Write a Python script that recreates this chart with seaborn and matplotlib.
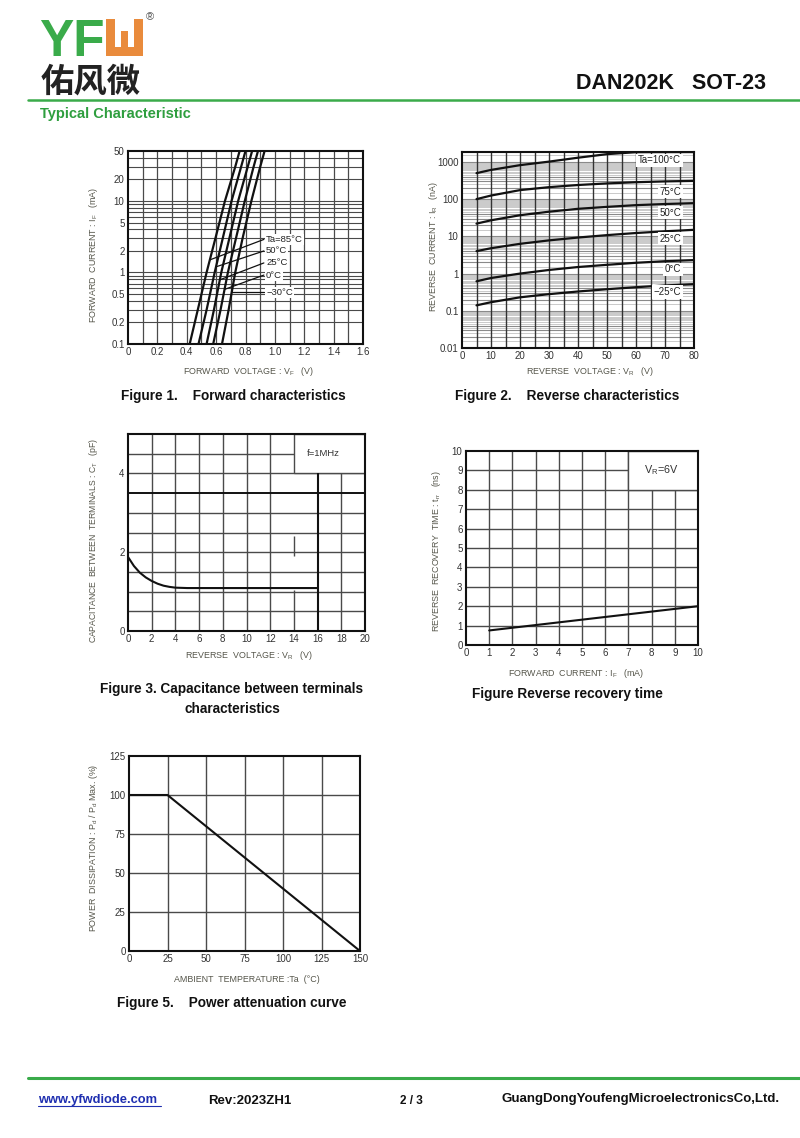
import numpy as np
import pandas as pd
import matplotlib
matplotlib.use("Agg")
import matplotlib.pyplot as plt
import seaborn as sns
from matplotlib.patches import Rectangle
from matplotlib.lines import Line2D
from matplotlib.ticker import NullLocator

# ---------------- data ----------------
# Figure 1 : forward characteristics (IF in mA, VF in V)
f1_current = [0.1, 0.3, 1, 3, 10, 30, 50]
f1_temps = ["Ta=85°C", "50°C", "25°C", "0°C", "−30°C"]
f1_vf_85 = [0.42, 0.475, 0.535, 0.595, 0.66, 0.73, 0.76]
f1_vf_50 = [0.48, 0.535, 0.59, 0.645, 0.705, 0.77, 0.80]
f1_vf_25 = [0.535, 0.585, 0.635, 0.69, 0.75, 0.815, 0.845]
f1_vf_0 = [0.58, 0.63, 0.68, 0.735, 0.795, 0.855, 0.885]
f1_vf_m30 = [0.64, 0.685, 0.73, 0.78, 0.84, 0.90, 0.93]
f1_label_current = [2.9, 2.0, 1.36, 0.92, 0.53]
f1_leader_current = [1.5, 1.2, 0.79, 0.58, 0.53]

# Figure 2 : reverse characteristics (IR in nA, VR in V)
f2_vr = [5, 10, 20, 30, 40, 50, 60, 70, 80]
f2_temps = ["Ta=100°C", "75°C", "50°C", "25°C", "0°C", "−25°C"]
f2_ir_100 = [500, 610, 820, 1020, 1300, 1620, 1830, 1840, 1845]
f2_ir_75 = [100, 125, 175, 210, 240, 265, 285, 300, 310]
f2_ir_50 = [22, 27, 37, 46, 55, 62, 69, 74, 78]
f2_ir_25 = [4.0, 4.8, 6.3, 7.8, 9.3, 10.8, 12.3, 13.7, 15]
f2_ir_0 = [0.62, 0.76, 1.0, 1.25, 1.5, 1.72, 1.95, 2.15, 2.3]
f2_ir_m25 = [0.14, 0.17, 0.23, 0.28, 0.33, 0.38, 0.43, 0.48, 0.52]
f2_label_current = [1100, 160, 43, 8.7, 1.3, 0.32]

# Figure 3 : capacitance between terminals (pF vs VR)
f3_vr = [0, 0.5, 1, 1.5, 2, 2.5, 3, 3.5, 4, 5, 6, 16]
f3_ct = [1.88, 1.65, 1.48, 1.36, 1.27, 1.2, 1.15, 1.12, 1.1, 1.09, 1.09, 1.09]

# Figure 4 : reverse recovery time (ns vs IF mA)
f4_if = [1, 10]
f4_trr = [0.75, 2.0]

# Figure 5 : power attenuation curve
f5_ta = [0, 25, 150]
f5_pd = [100, 100, 0]

# ---------------- style ----------------
sns.set_theme(style="white")
plt.rcParams["font.family"] = ["Liberation Sans", "DejaVu Sans"]
plt.rcParams["mathtext.fontset"] = "custom"
plt.rcParams["mathtext.rm"] = "Liberation Sans"

W, H = 800, 1138
fig = plt.figure(figsize=(W / 100, H / 100), dpi=100)
fig.patch.set_facecolor("white")

GREEN = "#3aab4a"
LABEL_C = "#55554a"
TICK_C = "#333333"
GRID_C = "#4a4a4a"


def add_ax(l, t, r, b):
    ax = fig.add_axes([l / W, 1 - b / H, (r - l) / W, (b - t) / H])
    ax.set_facecolor("white")
    for sp in ax.spines.values():
        sp.set_linewidth(1.5)
        sp.set_color("#111111")
        sp.set_zorder(5)
    ax.tick_params(length=0, labelsize=7, colors=TICK_C, pad=2.5)
    ax.grid(False)
    return ax


def ftext(x, y, s, **kw):
    fig.text(x / W, 1 - y / H, s, **kw)


# ---------------- header ----------------
ftext(39, 56, "YF", fontsize=37, fontweight="bold", color=GREEN, va="baseline", ha="left")
fig.add_artist(Rectangle((106 / W, 1 - 56 / H), 37 / W, 37 / H, transform=fig.transFigure,
                         fc="#e98b3c", ec="none"))
for (x0, y0, x1, y1) in [(115, 19, 134, 31), (115, 31, 121, 47), (128, 31, 134, 47)]:
    fig.add_artist(Rectangle((x0 / W, 1 - y1 / H), (x1 - x0) / W, (y1 - y0) / H,
                             transform=fig.transFigure, fc="white", ec="none"))
ftext(146, 17, "®", fontsize=8, color="#555555", va="center", ha="left")
ftext(41, 92, "佑风微", fontsize=24, fontweight="bold", color="#222222",
      family=["Noto Sans CJK SC", "DejaVu Sans"], va="baseline", ha="left")
ftext(766, 89, "DAN202K   SOT-23", fontsize=15.5, fontweight="bold", color="#111111",
      va="baseline", ha="right")
fig.add_artist(Line2D([28 / W, 1], [1 - 100 / H] * 2, color=GREEN, lw=1.8))
ftext(40, 118, "Typical Characteristic", fontsize=10.5, fontweight="bold", color="#2e9e3e",
      va="baseline", ha="left")

# ---------------- Figure 1 ----------------
ax1 = add_ax(128, 151, 363, 344)
ax1.set_yscale("log")
ax1.set_xlim(0, 1.6)
ax1.set_ylim(0.1, 50)
hl = [k * d for d in (0.1, 1, 10) for k in range(1, 10)] + [50]
hl = [v for v in hl if 0.1 < v < 50]
ax1.hlines(hl, 0, 1.6, color=GRID_C, lw=0.8, zorder=0.5)
ax1.vlines(np.arange(0.1, 1.6, 0.1), 0.1, 50, color=GRID_C, lw=0.9, zorder=0.5)
f1_vf = [f1_vf_85, f1_vf_50, f1_vf_25, f1_vf_0, f1_vf_m30]
df1 = pd.DataFrame({
    "VF": sum(f1_vf, []),
    "IF": f1_current * len(f1_temps),
    "Ta": np.repeat(f1_temps, len(f1_current)),
})
sns.lineplot(data=df1, x="VF", y="IF", hue="Ta", palette=["#111111"] * 5, legend=False,
             sort=False, estimator=None, lw=1.6, ax=ax1, zorder=3)
for lab, il, ie, vf in zip(f1_temps, f1_label_current, f1_leader_current, f1_vf):
    ve = np.interp(np.log10(ie), np.log10(f1_current), vf)
    ax1.plot([0.925, ve], [il, ie], color="#111111", lw=0.9, zorder=3)
    ax1.text(0.94, il, lab, fontsize=6.8, color="#222222", va="center", ha="left", zorder=4,
             bbox=dict(fc="white", ec="none", pad=0.8))
ax1.set_xticks(np.arange(0, 1.61, 0.2))
ax1.set_xticklabels(["0", "0.2", "0.4", "0.6", "0.8", "1.0", "1.2", "1.4", "1.6"])
ax1.set_yticks([0.1, 0.2, 0.5, 1, 2, 5, 10, 20, 50])
ax1.set_yticklabels(["0.1", "0.2", "0.5", "1", "2", "5", "10", "20", "50"])
ax1.yaxis.set_minor_locator(NullLocator())
ax1.set_xlabel("")
ax1.set_ylabel("")
ftext(248, 372, r"FORWARD  VOLTAGE : V$\mathregular{_F}$   (V)", fontsize=6.4, color=LABEL_C,
      ha="center", va="center")
ftext(94, 255, r"FORWARD  CURRENT : I$\mathregular{_F}$   (mA)", fontsize=6.4, color=LABEL_C,
      ha="center", va="center", rotation=90)
ftext(233, 396, "Figure 1.    Forward characteristics", fontsize=9.8, fontweight="bold",
      color="#111111", ha="center", va="center")

# ---------------- Figure 2 ----------------
ax2 = add_ax(462, 152, 694, 348)
ax2.set_yscale("log")
ax2.set_xlim(0, 80)
ax2.set_ylim(0.01, 1850)
for d in (0.01, 0.1, 1, 10, 100, 1000):
    dark = [k * d for k in (1, 2, 3, 4)]
    light = [k * d for k in (1.5, 2.5, 3.5, 4.5, 5, 5.5, 6, 6.5, 7, 7.5, 8, 8.5, 9, 9.5)]
    ax2.hlines([v for v in dark if v < 1850], 0, 80, color="#8a8a8a", lw=0.8, zorder=0.5)
    ax2.hlines([v for v in light if v < 1850], 0, 80, color="#cacaca", lw=0.7, zorder=0.4)
ax2.vlines(np.arange(5, 80, 5), 0.01, 1850, color="#333333", lw=1.0, zorder=0.6)
f2_ir = [f2_ir_100, f2_ir_75, f2_ir_50, f2_ir_25, f2_ir_0, f2_ir_m25]
df2 = pd.DataFrame({
    "VR": f2_vr * len(f2_temps),
    "IR": sum(f2_ir, []),
    "Ta": np.repeat(f2_temps, len(f2_vr)),
})
sns.lineplot(data=df2, x="VR", y="IR", hue="Ta", palette=["#111111"] * 6, legend=False,
             sort=False, estimator=None, lw=1.6, ax=ax2, zorder=3)
for lab, il in zip(f2_temps, f2_label_current):
    ax2.text(75.5, il, lab, fontsize=7, color="#222222", va="center", ha="right", zorder=4,
             bbox=dict(fc="white", ec="none", pad=1.2))
ax2.set_xticks(np.arange(0, 81, 10))
ax2.set_yticks([0.01, 0.1, 1, 10, 100, 1000])
ax2.set_yticklabels(["0.01", "0.1", "1", "10", "100", "1000"])
ax2.yaxis.set_minor_locator(NullLocator())
ax2.set_xlabel("")
ax2.set_ylabel("")
ftext(590, 372, r"REVERSE  VOLTAGE : V$\mathregular{_R}$   (V)", fontsize=6.4, color=LABEL_C,
      ha="center", va="center")
ftext(434, 246, r"REVERSE  CURRENT : I$\mathregular{_R}$   (nA)", fontsize=6.4, color=LABEL_C,
      ha="center", va="center", rotation=90)
ftext(567, 396, "Figure 2.    Reverse characteristics", fontsize=9.8, fontweight="bold",
      color="#111111", ha="center", va="center")

# ---------------- Figure 3 ----------------
ax3 = add_ax(128, 434, 365, 631)
ax3.set_xlim(0, 20)
ax3.set_ylim(0, 5)
ax3.hlines([0.5, 1, 1.5, 2, 2.5, 3, 4, 4.5], 0, 20, color=GRID_C, lw=1.0, zorder=0.5)
ax3.hlines([3.5], 0, 20, color="#111111", lw=1.4, zorder=0.6)
ax3.vlines([2, 4, 6, 8, 10, 12, 18], 0, 5, color=GRID_C, lw=1.0, zorder=0.5)
ax3.vlines([14, 14], [0, 1.9], [1.05, 2.4], color=GRID_C, lw=1.0, zorder=0.5)
ax3.add_patch(Rectangle((14, 4), 6, 1, fc="white", ec=GRID_C, lw=1.0, zorder=1))
ax3.vlines([16], 0, 4, color="#111111", lw=1.5, zorder=1.2)
ax3.text(16.5, 4.5, "f=1MHz", fontsize=6.8, color="#333333", ha="center", va="center", zorder=4)
df3 = pd.DataFrame({"VR": f3_vr, "CT": f3_ct})
sns.lineplot(data=df3, x="VR", y="CT", color="#111111", lw=1.5, sort=False, estimator=None,
             ax=ax3, zorder=3)
ax3.set_xticks(np.arange(0, 21, 2))
ax3.set_yticks([0, 2, 4])
ax3.set_xlabel("")
ax3.set_ylabel("")
ftext(249, 656, r"REVERSE  VOLTAGE : V$\mathregular{_R}$   (V)", fontsize=6.4, color=LABEL_C,
      ha="center", va="center")
ftext(93, 541, r"CAPACITANCE  BETWEEN  TERMINALS : C$\mathregular{_T}$   (pF)", fontsize=6.2,
      color=LABEL_C, ha="center", va="center", rotation=90)
ftext(232, 689, "Figure 3. Capacitance between terminals", fontsize=9.8, fontweight="bold",
      color="#111111", ha="center", va="center")
ftext(232, 709, "characteristics", fontsize=9.8, fontweight="bold",
      color="#111111", ha="center", va="center")

# ---------------- Figure 4 ----------------
ax4 = add_ax(466, 451, 698, 645)
ax4.set_xlim(0, 10)
ax4.set_ylim(0, 10)
ax4.hlines(np.arange(1, 10), 0, 10, color=GRID_C, lw=1.0, zorder=0.5)
ax4.vlines(np.arange(1, 10), 0, 10, color=GRID_C, lw=1.0, zorder=0.5)
ax4.add_patch(Rectangle((7, 8), 3, 2, fc="white", ec=GRID_C, lw=1.0, zorder=1))
ax4.text(8.4, 9.0, r"V$\mathregular{_R}$=6V", fontsize=7.8, color="#333333", ha="center",
         va="center", zorder=4)
df4 = pd.DataFrame({"IF": f4_if, "trr": f4_trr})
sns.lineplot(data=df4, x="IF", y="trr", color="#111111", lw=1.5, sort=False, estimator=None,
             ax=ax4, zorder=3)
ax4.set_xticks(np.arange(0, 11, 1))
ax4.set_yticks(np.arange(0, 11, 1))
ax4.set_xlabel("")
ax4.set_ylabel("")
ftext(576, 674, r"FORWARD  CURRENT : I$\mathregular{_F}$   (mA)", fontsize=6.4, color=LABEL_C,
      ha="center", va="center")
ftext(436, 551, r"REVERSE  RECOVERY  TIME : t$\mathregular{_{rr}}$   (ns)", fontsize=6.4,
      color=LABEL_C, ha="center", va="center", rotation=90)
ftext(567, 694, "Figure Reverse recovery time", fontsize=9.8, fontweight="bold",
      color="#111111", ha="center", va="center")

# ---------------- Figure 5 ----------------
ax5 = add_ax(129, 756, 360, 951)
ax5.set_xlim(0, 150)
ax5.set_ylim(0, 125)
ax5.hlines(np.arange(25, 125, 25), 0, 150, color=GRID_C, lw=1.0, zorder=0.5)
ax5.vlines(np.arange(25, 150, 25), 0, 125, color=GRID_C, lw=1.0, zorder=0.5)
df5 = pd.DataFrame({"Ta": f5_ta, "Pd": f5_pd})
sns.lineplot(data=df5, x="Ta", y="Pd", color="#111111", lw=1.5, sort=False, estimator=None,
             ax=ax5, zorder=3)
ax5.set_xticks(np.arange(0, 151, 25))
ax5.set_yticks(np.arange(0, 126, 25))
ax5.set_xlabel("")
ax5.set_ylabel("")
ftext(247, 980, "AMBIENT  TEMPERATURE :Ta  (°C)", fontsize=6.4, color=LABEL_C,
      ha="center", va="center")
ftext(94, 848, r"POWER  DISSIPATION : P$\mathregular{_d}$ / P$\mathregular{_d}$ Max. (%)",
      fontsize=6.4, color=LABEL_C, ha="center", va="center", rotation=90)
ftext(232, 1003, "Figure 5.    Power attenuation curve", fontsize=9.8, fontweight="bold",
      color="#111111", ha="center", va="center")

# ---------------- footer ----------------
fig.add_artist(Line2D([28 / W, 1], [1 - 1078 / H] * 2, color=GREEN, lw=2.2))
ftext(38, 1103, "www.yfwdiode.com", fontsize=9.3, fontweight="bold", color="#1f2fb0",
      ha="left", va="baseline")
fig.add_artist(Line2D([38 / W, 161 / W], [1 - 1106 / H] * 2, color="#1f2fb0", lw=0.8))
ftext(208, 1104, "Rev:2023ZH1", fontsize=9.5, fontweight="bold", color="#111111",
      ha="left", va="baseline")
ftext(400, 1104, "2 / 3", fontsize=8.5, fontweight="bold", color="#111111",
      ha="left", va="baseline")
ftext(780, 1102, "GuangDongYoufengMicroelectronicsCo,Ltd.", fontsize=9.5, fontweight="bold",
      color="#111111", ha="right", va="baseline")

fig.savefig("out.png", dpi=100, facecolor="white")
